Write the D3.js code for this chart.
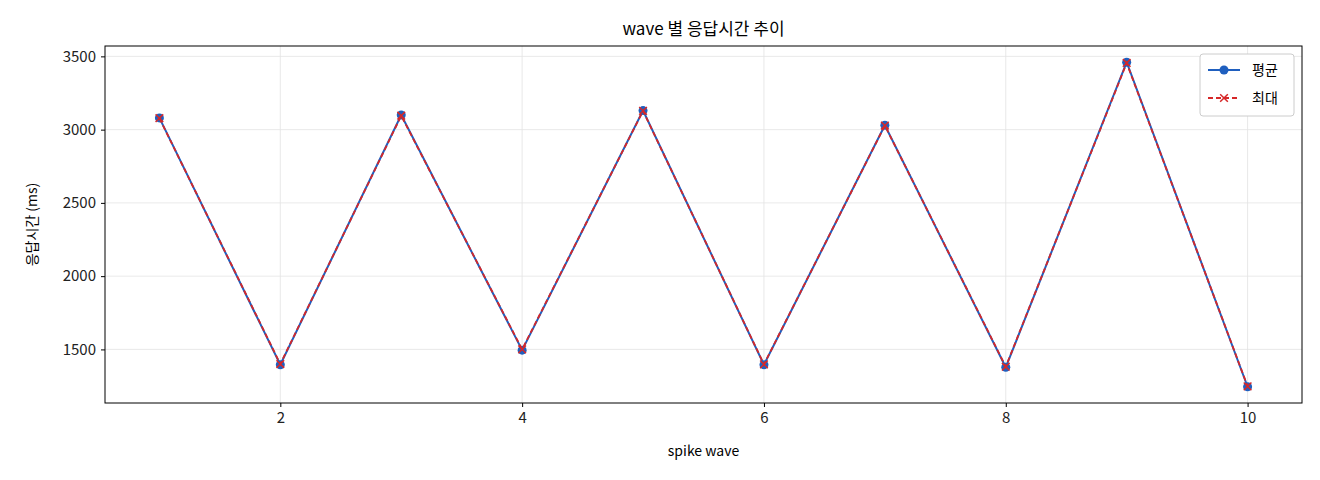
<!DOCTYPE html>
<html>
<head>
<meta charset="utf-8">
<script src="https://cdn.jsdelivr.net/npm/d3@7"></script>
<style>
  body { margin: 0; background: #fff; }
  text { font-family: "Noto Sans CJK KR", "DejaVu Sans", sans-serif; }
</style>
</head>
<body>
<svg id="chart"></svg>
<script>
const waves = [1, 2, 3, 4, 5, 6, 7, 8, 9, 10];
const avgValues = [3080, 1395, 3100, 1495, 3130, 1395, 3030, 1378, 3460, 1245];
const maxValues = [3078, 1400, 3095, 1500, 3128, 1398, 3028, 1382, 3455, 1248];
const yTicks = [1500, 2000, 2500, 3000, 3500];
const xTicks = [2, 4, 6, 8, 10];

const width = 1320, height = 480;
const margin = { top: 46, right: 18, bottom: 77, left: 105 };

const svg = d3.select("#chart").attr("width", width).attr("height", height);

const lo = d3.min([...avgValues, ...maxValues]), hi = d3.max([...avgValues, ...maxValues]);
const pad = (hi - lo) * 0.05;
const x = d3.scaleLinear().domain([0.55, 10.45]).range([margin.left, width - margin.right]);
const y = d3.scaleLinear().domain([lo - pad, hi + pad]).range([height - margin.bottom, margin.top]);

// grid
svg.append("g").selectAll("line").data(xTicks).enter().append("line")
  .attr("x1", d => x(d)).attr("x2", d => x(d))
  .attr("y1", margin.top).attr("y2", height - margin.bottom)
  .attr("stroke", "#e3e3e3").attr("stroke-width", 0.8);
svg.append("g").selectAll("line").data(yTicks).enter().append("line")
  .attr("x1", margin.left).attr("x2", width - margin.right)
  .attr("y1", d => y(d)).attr("y2", d => y(d))
  .attr("stroke", "#e3e3e3").attr("stroke-width", 0.8);

// axes
const xAxis = svg.append("g")
  .attr("transform", `translate(0,${height - margin.bottom})`)
  .call(d3.axisBottom(x).tickValues(xTicks).tickFormat(d3.format("d")).tickSize(4).tickPadding(5));
const yAxis = svg.append("g")
  .attr("transform", `translate(${margin.left},0)`)
  .call(d3.axisLeft(y).tickValues(yTicks).tickFormat(d3.format("d")).tickSize(4).tickPadding(5));
[xAxis, yAxis].forEach(a => {
  a.select(".domain").remove();
  a.selectAll("text").style("font-size", "15px").attr("fill", "#222");
});

svg.append("rect")
  .attr("x", margin.left).attr("y", margin.top)
  .attr("width", width - margin.left - margin.right)
  .attr("height", height - margin.top - margin.bottom)
  .attr("fill", "none").attr("stroke", "#000").attr("stroke-width", 1);

// lines
const line = d3.line().x((d, i) => x(waves[i])).y(d => y(d));
svg.append("path").datum(avgValues).attr("d", line)
  .attr("fill", "none").attr("stroke", "#1f5fbf").attr("stroke-width", 2);
svg.append("g").selectAll("circle").data(avgValues).enter().append("circle")
  .attr("cx", (d, i) => x(waves[i])).attr("cy", d => y(d)).attr("r", 4.5)
  .attr("fill", "#1f5fbf");

svg.append("path").datum(maxValues).attr("d", line)
  .attr("fill", "none").attr("stroke", "#d62728").attr("stroke-width", 1.8)
  .attr("stroke-dasharray", "5,3");
const cross = d3.symbol().type(d3.symbolX).size(40);
svg.append("g").selectAll("path").data(maxValues).enter().append("path")
  .attr("d", cross)
  .attr("transform", (d, i) => `translate(${x(waves[i])},${y(d)})`)
  .attr("stroke", "#d62728").attr("stroke-width", 1.5).attr("fill", "none");

// titles
svg.append("text").attr("x", (margin.left + width - margin.right) / 2).attr("y", 35)
  .attr("text-anchor", "middle").style("font-size", "17px").text("wave 별 응답시간 추이");
svg.append("text").attr("x", (margin.left + width - margin.right) / 2).attr("y", 456)
  .attr("text-anchor", "middle").style("font-size", "14px").text("spike wave");
svg.append("text").attr("transform", `translate(37,${(margin.top + height - margin.bottom) / 2}) rotate(-90)`)
  .attr("text-anchor", "middle").style("font-size", "14px").text("응답시간 (ms)");

// legend
const lg = svg.append("g").attr("transform", "translate(1200,54)");
lg.append("rect").attr("width", 94).attr("height", 62).attr("rx", 3)
  .attr("fill", "#fff").attr("stroke", "#ccc");
lg.append("line").attr("x1", 8).attr("x2", 40).attr("y1", 16).attr("y2", 16)
  .attr("stroke", "#1f5fbf").attr("stroke-width", 2);
lg.append("circle").attr("cx", 24).attr("cy", 16).attr("r", 4.5).attr("fill", "#1f5fbf");
lg.append("text").attr("x", 52).attr("y", 21).style("font-size", "14px").text("평균");
lg.append("line").attr("x1", 8).attr("x2", 40).attr("y1", 44).attr("y2", 44)
  .attr("stroke", "#d62728").attr("stroke-width", 1.8).attr("stroke-dasharray", "5,3");
lg.append("path").attr("d", cross).attr("transform", "translate(24,44)")
  .attr("stroke", "#d62728").attr("stroke-width", 1.5).attr("fill", "none");
lg.append("text").attr("x", 52).attr("y", 49).style("font-size", "14px").text("최대");
</script>
</body>
</html>
